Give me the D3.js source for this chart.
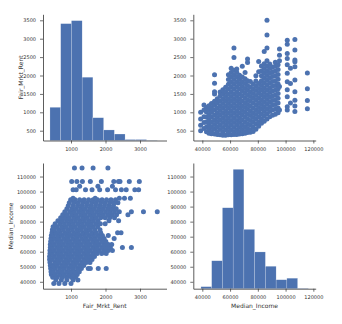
<!DOCTYPE html>
<html><head><meta charset="utf-8">
<script src="https://cdn.jsdelivr.net/npm/d3@7"></script>
<style>body{margin:0;background:#fff}svg{display:block}</style>
</head><body>
<svg id="chart" width="342" height="324"></svg>
<script>
// ---------- data ----------
const variables = ["Fair_Mrkt_Rent", "Median_Income"];
const rentYTicks = [500, 1000, 1500, 2000, 2500, 3000, 3500];
const rentXTicks = [1000, 2000, 3000];
const incomeXTicks = [40000, 60000, 80000, 100000, 120000];
const incomeYTicks = [40000, 50000, 60000, 70000, 80000, 90000, 100000, 110000];

const rentBinEdges = [390, 701, 1012, 1323, 1634, 1945, 2256, 2567, 2878, 3189, 3500];
const rentBinCounts = [277, 975, 1000, 528, 190, 88, 54, 8, 8, 2];
const incomeBinEdges = [39000, 46740, 54480, 62220, 69960, 77700, 85440, 93180, 100920, 108660, 116400];
const incomeBinCounts = [17, 234, 678, 1000, 497, 308, 188, 75, 88, 3];

// scatter: median income levels and the fair market rents seen at each level
const incomeLevels = [38800, 41200, 43000, 44800, 46600, 48800, 50800, 52800, 54800, 56800,
  58800, 60800, 62800, 64800, 66800, 68800, 70800, 72600, 74600, 76600, 78600, 80600,
  82600, 84600, 86600, 88600, 90600, 92600, 94600, 95600, 101200, 103500, 106700, 115700];
const rentsAtIncome = [
  [500, 650, 820, 1000],
  [560, 720, 880, 1060, 1200],
  [470, 600, 740, 870, 1010, 1130],
  [430, 540, 670, 800, 930, 1060, 1180],
  [420, 480, 610, 740, 870, 1000, 1120, 1240],
  [410, 540, 670, 800, 930, 1060, 1190, 1300, 1500, 1560, 1790, 2020],
  [400, 470, 600, 730, 860, 990, 1120, 1250, 1370],
  [390, 530, 660, 790, 920, 1050, 1180, 1310, 1440, 1550],
  [380, 460, 590, 720, 850, 980, 1110, 1240, 1370, 1500, 1610],
  [380, 520, 650, 780, 910, 1040, 1170, 1300, 1430, 1560, 1680],
  [390, 460, 590, 720, 850, 980, 1110, 1240, 1370, 1500, 1630, 1760, 1890, 2020],
  [390, 520, 650, 780, 910, 1040, 1170, 1300, 1430, 1560, 1690, 1820, 1950, 2080, 2200],
  [400, 460, 590, 720, 850, 980, 1110, 1240, 1370, 1500, 1630, 1760, 1890, 2020, 2140, 2490, 2750],
  [400, 520, 650, 780, 910, 1040, 1170, 1300, 1430, 1560, 1690, 1820, 1950, 2080, 2180],
  [410, 460, 590, 720, 850, 980, 1110, 1240, 1370, 1500, 1630, 1760, 1890, 2010],
  [420, 530, 660, 790, 920, 1050, 1180, 1310, 1440, 1570, 1700, 1830, 1960, 2250],
  [430, 480, 610, 740, 870, 1000, 1130, 1260, 1390, 1520, 1650, 1780, 1910, 2080],
  [450, 560, 690, 820, 950, 1080, 1210, 1340, 1470, 1600, 1730, 1860, 2350, 2450],
  [460, 520, 650, 780, 910, 1040, 1170, 1300, 1430, 1560, 1690, 1840],
  [480, 600, 730, 860, 990, 1120, 1250, 1380, 1510, 1640, 1770],
  [540, 680, 810, 940, 1070, 1200, 1330, 1460, 1590, 1720, 1850, 1990],
  [620, 740, 870, 1000, 1130, 1260, 1390, 1520, 1650, 1780, 2100, 2380],
  [700, 820, 950, 1080, 1210, 1340, 1470, 1600, 1730, 1860, 1990, 2120, 2260],
  [760, 890, 1020, 1150, 1280, 1410, 1540, 1670, 1800, 1930, 2060, 2190, 2320, 2650],
  [820, 960, 1090, 1220, 1350, 1480, 1610, 1740, 1870, 2000, 2130, 2260, 2400, 2750, 3100, 3500],
  [880, 1020, 1150, 1280, 1410, 1540, 1670, 1800, 1930, 2060, 2190, 2310],
  [920, 1060, 1190, 1320, 1450, 1580, 1710, 1840, 1970, 2100, 2230],
  [950, 1080, 1210, 1340, 1470, 1600, 1730, 1860, 1990, 2120, 2250, 2360],
  [990, 1120, 1250, 1380, 1510, 1640, 1770, 1900, 2030, 2160, 2290],
  [1060, 1700, 2400, 2550, 2720],
  [1060, 1150, 1420, 1610, 1830, 2060, 2290, 2460, 2600, 2850, 2960],
  [1250, 1780, 2200],
  [1020, 1170, 1330, 1560, 1880, 2240, 2375, 2420, 2690, 2980],
  [1100, 1320, 1640, 2070]
];

// ---------- build ----------
const points = incomeLevels.flatMap((inc, i) => rentsAtIncome[i].map(r => ({ Median_Income: inc, Fair_Mrkt_Rent: r })));
const color = "#4c72b0";
const ink = "#333333";
const font = "'DejaVu Sans', sans-serif";

const xScale = {
  Fair_Mrkt_Rent: d3.scaleLinear().domain([188, 3768]).range([43, 166.5]),
  Median_Income: d3.scaleLinear().domain([33500, 121700]).range([193.3, 315.7])
};
const yScale = {
  Fair_Mrkt_Rent: d3.scaleLinear().domain([234, 3663]).range([140.5, 14.3]),
  Median_Income: d3.scaleLinear().domain([35400, 119000]).range([288.7, 163])
};
const xTicks = { Fair_Mrkt_Rent: rentXTicks, Median_Income: incomeXTicks };
const yTicks = { Fair_Mrkt_Rent: rentYTicks, Median_Income: incomeYTicks };
const hist = {
  Fair_Mrkt_Rent: { edges: rentBinEdges, counts: rentBinCounts },
  Median_Income: { edges: incomeBinEdges, counts: incomeBinCounts }
};

const svg = d3.select("#chart");

variables.forEach((yv, r) => {
  variables.forEach((xv, c) => {
    const x = xScale[xv], y = yScale[yv];
    const g = svg.append("g");
    if (r === c) {
      const h = hist[xv];
      const [bottom, top] = y.range();
      const cy = d3.scaleLinear().domain([0, d3.max(h.counts) * 1.053]).range([bottom, top]);
      g.selectAll("rect").data(h.counts).join("rect")
        .attr("x", (d, i) => x(h.edges[i]))
        .attr("width", (d, i) => x(h.edges[i + 1]) - x(h.edges[i]))
        .attr("y", d => cy(d))
        .attr("height", d => bottom - cy(d))
        .attr("fill", color)
        .attr("stroke", "rgba(255,255,255,0.45)")
        .attr("stroke-width", 0.4);
    } else {
      g.selectAll("circle").data(points).join("circle")
        .attr("cx", d => x(d[xv]))
        .attr("cy", d => y(d[yv]))
        .attr("r", 2.5)
        .attr("fill", color);
    }
    // axes
    const ax = svg.append("g").attr("transform", `translate(0,${y.range()[0]})`)
      .call(d3.axisBottom(x).tickValues(xTicks[xv]).tickFormat(d3.format("d")).tickSize(3).tickSizeOuter(0).tickPadding(3.5));
    const ay = svg.append("g").attr("transform", `translate(${x.range()[0]},0)`)
      .call(d3.axisLeft(y).tickValues(yTicks[yv]).tickFormat(d3.format("d")).tickSize(3).tickSizeOuter(0).tickPadding(4));
    [ax, ay].forEach(a => {
      a.select(".domain").attr("stroke", ink).attr("stroke-width", 0.8);
      a.selectAll(".tick line").attr("stroke", ink).attr("stroke-width", 0.7);
      a.selectAll(".tick text").attr("fill", ink).attr("font-size", 5).attr("font-family", font);
    });
  });
});

// axis labels
svg.append("text").attr("transform", "translate(23.4,77.4) rotate(-90)")
  .attr("text-anchor", "middle").attr("font-size", 6).attr("font-family", font).attr("fill", ink)
  .text(variables[0]);
svg.append("text").attr("transform", "translate(12.7,225.9) rotate(-90)")
  .attr("text-anchor", "middle").attr("font-size", 6).attr("font-family", font).attr("fill", ink)
  .text(variables[1]);
svg.append("text").attr("x", (xScale.Fair_Mrkt_Rent.range()[0] + xScale.Fair_Mrkt_Rent.range()[1]) / 2).attr("y", 307.8)
  .attr("text-anchor", "middle").attr("font-size", 6).attr("font-family", font).attr("fill", ink)
  .text(variables[0]);
svg.append("text").attr("x", (xScale.Median_Income.range()[0] + xScale.Median_Income.range()[1]) / 2).attr("y", 307.8)
  .attr("text-anchor", "middle").attr("font-size", 6).attr("font-family", font).attr("fill", ink)
  .text(variables[1]);
</script>
</body></html>
